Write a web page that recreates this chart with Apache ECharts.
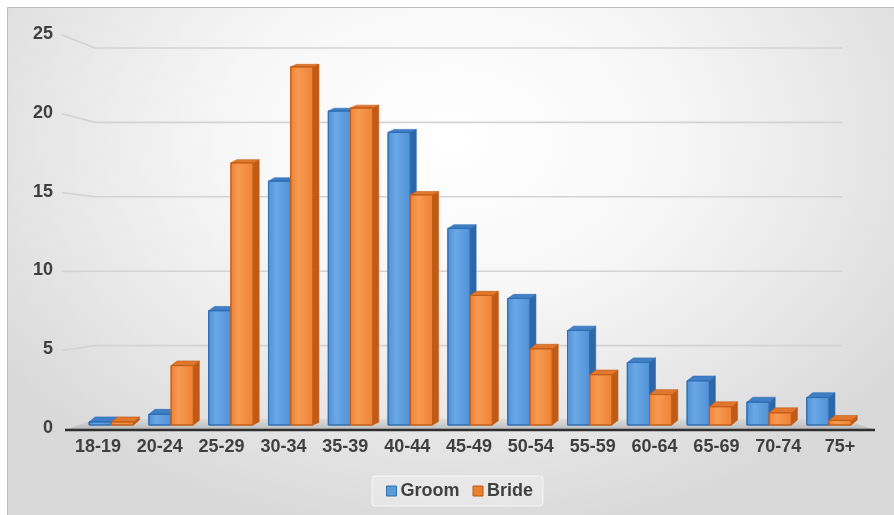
<!DOCTYPE html>
<html><head><meta charset="utf-8">
<script src="https://cdn.jsdelivr.net/npm/echarts@6/dist/echarts.min.js"></script>
<style>
html,body{margin:0;padding:0;background:#fff;overflow:hidden;}
#frame{position:absolute;left:7px;top:7px;width:887px;height:508px;border-left:1px solid #bdbdbd;border-top:1px solid #bdbdbd;box-sizing:border-box;
background: radial-gradient(ellipse 62% 78% at 50% 26%, #ffffff 0%, #f7f7f7 40%, #e6e6e6 75%, #d9d9d9 100%);}
#chart{position:absolute;left:0;top:0;width:894px;height:515px;}
</style></head><body>
<div id="frame"></div><div id="chart"></div>
<script>
// ---- data ----
const categories = ['18-19','20-24','25-29','30-34','35-39','40-44','45-49','50-54','55-59','60-64','65-69','70-74','75+'];
const groomValues = [0.2, 0.7, 7.5, 16.0, 20.6, 19.2, 12.9, 8.3, 6.2, 4.1, 2.9, 1.5, 1.8];
const brideValues = [0.2, 3.9, 17.2, 23.5, 20.8, 15.1, 8.5, 5.0, 3.3, 2.0, 1.2, 0.8, 0.3];
const yTickValues = [0, 5, 10, 15, 20, 25];
const seriesNames = ['Groom', 'Bride'];

// ---- style ----
const FONT = '"Liberation Sans", Arial, Helvetica, sans-serif';
const TXT = '#404040';
const PAL = [
  {front0:'#6aa9e6', front1:'#4f90d6', stroke:'#2f6db3', side:'#2e67a8', top:'#3f7fc6', legend:'#5b9bd5', legendBorder:'#2e6fb4'},
  {front0:'#f79a52', front1:'#ee8234', stroke:'#c45d16', side:'#c05a17', top:'#e0772c', legend:'#ed7d31', legendBorder:'#b85a17'}
];
const S = 0.033, VX = 445, VY = 337;   // slight perspective of the bar plane
function persp(x, y){ return [x + S*(VX - x), y + S*(VY - y)]; }

function makeRender(k){
  const pal = PAL[k];
  return function(params, api){
    const idx = api.value(0), val = api.value(1);
    const base = api.coord([idx, 0]);
    const topP = api.coord([idx, val]);
    const catW = api.size([1, 0])[0];
    const bw = catW * 0.372;
    const off = 2;
    const x1 = k === 0 ? base[0] - bw + off : base[0] + off;
    const x2 = x1 + bw;
    const a = persp(x1, base[1]), b = persp(x2, base[1]);
    const c = persp(x2, topP[1]), d = persp(x1, topP[1]);
    const dx = 6;
    const t = Math.max(0, Math.min(1, (d[1] - 60) / 360));
    const dy = -(2.5 + 2.5 * t);
    return {
      type: 'group',
      children: [
        { type: 'polygon', shape: { points: [b, [b[0]+dx, b[1]+dy], [c[0]+dx, c[1]+dy], c] },
          style: { fill: pal.side, stroke: pal.stroke, lineWidth: 0.6 } },
        { type: 'polygon', shape: { points: [d, [d[0]+dx, d[1]+dy], [c[0]+dx, c[1]+dy], c] },
          style: { fill: pal.top, stroke: pal.stroke, lineWidth: 0.6 } },
        { type: 'polygon', shape: { points: [a, b, c, d] },
          style: { fill: new echarts.graphic.LinearGradient(0, 0, 1, 0, [
              {offset: 0, color: pal.front1}, {offset: 0.35, color: pal.front0}, {offset: 1, color: pal.front1}]),
            stroke: pal.stroke, lineWidth: 1 } }
      ]
    };
  };
}

const chart = echarts.init(document.getElementById('chart'), null, {renderer: 'canvas'});
const option = {
  backgroundColor: 'transparent',
  animation: false,
  textStyle: { fontFamily: FONT },
  grid: { left: 67, right: 23, top: 34, bottom: 87, containLabel: false },
  legend: {
    left: 372, top: 476,
    padding: [6, 10, 6, 14],
    backgroundColor: 'rgba(255,255,255,0.28)',
    borderColor: 'rgba(255,255,255,0.7)', borderWidth: 1, borderRadius: 3,
    itemWidth: 10, itemHeight: 10, itemGap: 13, icon: 'rect',
    textStyle: { fontFamily: FONT, fontSize: 18, fontWeight: 'bold', color: TXT, padding: [0, 0, 0, -1] },
    data: seriesNames.map((n, k) => ({ name: n, itemStyle: { color: PAL[k].legend, borderColor: PAL[k].legendBorder, borderWidth: 1 } }))
  },
  xAxis: {
    type: 'category', data: categories,
    axisLine: { show: false }, axisTick: { show: false },
    axisLabel: { margin: 10, fontFamily: FONT, fontSize: 18, fontWeight: 'bold', color: TXT, interval: 0 },
    splitLine: { show: false }
  },
  yAxis: {
    type: 'value', min: 0, max: 25, interval: 5,
    axisLine: { show: false }, axisTick: { show: false },
    axisLabel: { margin: 14, fontFamily: FONT, fontSize: 18, fontWeight: 'bold', color: TXT,
      formatter: v => (yTickValues.indexOf(v) >= 0 ? String(v) : '') },
    splitLine: { show: false }
  },
  series: [
    { name: seriesNames[0], type: 'custom', renderItem: makeRender(0), itemStyle: { color: PAL[0].legend },
      encode: { x: 0, y: 1 }, data: groomValues.map((v, i) => [i, v]), z: 3 },
    { name: seriesNames[1], type: 'custom', renderItem: makeRender(1), itemStyle: { color: PAL[1].legend },
      encode: { x: 0, y: 1 }, data: brideValues.map((v, i) => [i, v]), z: 4 }
  ]
};
chart.setOption(option);

// back wall gridlines, floor and axis line, positioned from the value axis
const BY = 284.7, BS = 0.0558;  // back wall perspective
const leftFront = 62, leftBack = 95, rightBack = 842;
const y0 = chart.convertToPixel({yAxisIndex: 0}, 0);
const graphics = [];
yTickValues.forEach(v => {
  if (v === 0) return;
  const yf = chart.convertToPixel({yAxisIndex: 0}, v);
  const yb = yf + BS * (BY - yf);
  graphics.push({ type: 'polyline', z: 1, silent: true,
    shape: { points: [[leftFront, yf + 1], [leftBack, yb], [rightBack, yb]] },
    style: { stroke: '#d3d3d3', lineWidth: 1.6, fill: null } });
});
const ybFloor = y0 + BS * (BY - y0) - 1;
graphics.push({ type: 'polygon', z: 1, silent: true,
  shape: { points: [[65, y0 + 2], [leftBack, ybFloor], [rightBack, ybFloor], [875, y0 + 2]] },
  style: { fill: new echarts.graphic.LinearGradient(0, 0, 0, 1, [
    {offset: 0, color: 'rgba(200,200,200,0.35)'}, {offset: 1, color: 'rgba(170,170,170,0.75)'}]) } });
graphics.push({ type: 'line', z: 10, silent: true,
  shape: { x1: 65, y1: y0 + 2, x2: 875, y2: y0 + 2 },
  style: { stroke: '#2f2f2f', lineWidth: 2.5 } });
chart.setOption({ graphic: graphics });
</script>
</body></html>
